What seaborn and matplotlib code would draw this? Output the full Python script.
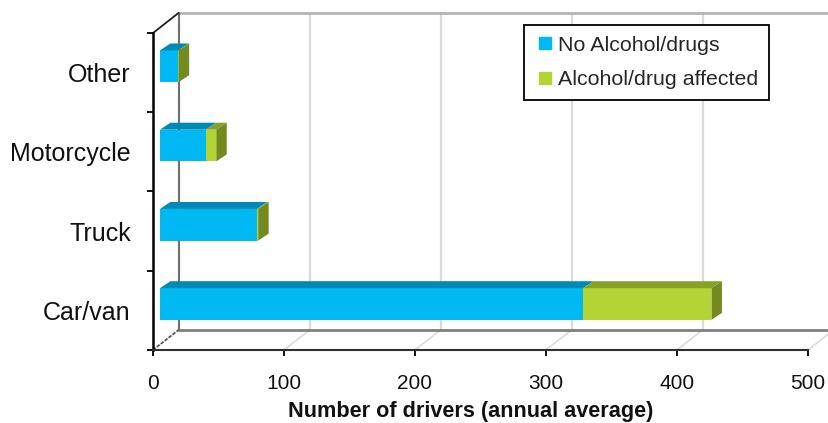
import pandas as pd
import matplotlib
matplotlib.use("Agg")
import matplotlib.pyplot as plt
from matplotlib.lines import Line2D
from matplotlib.patches import Polygon
import seaborn as sns

# data
vehicles = ["Other", "Motorcycle", "Truck", "Car/van"]
no_alcohol = [14, 35, 74, 323]
alcohol = [0.3, 8, 1, 98]
x_ticks = [0, 100, 200, 300, 400, 500]
x_title = "Number of drivers (annual average)"
legend_labels = ["No Alcohol/drugs", "Alcohol/drug affected"]

df = pd.DataFrame({"vehicle": vehicles, "no_alcohol": no_alcohol, "alcohol": alcohol})
df["total"] = df["no_alcohol"] + df["alcohol"]

BLUE, BLUE_TOP = "#00B9F2", "#0089B5"
GREEN, GREEN_TOP, GREEN_SIDE = "#B4D334", "#87A027", "#748A1E"

sns.set_theme(style="white")
plt.rcParams["font.family"] = ["Liberation Sans", "DejaVu Sans"]

W, H = 829, 423
fig = plt.figure(figsize=(W / 100, H / 100), dpi=100)
ax = fig.add_axes([153 / W, 1 - 350 / H, 655 / W, 317 / H])

sns.barplot(data=df, x="total", y="vehicle", color=GREEN, saturation=1, width=0.4, ax=ax, zorder=5)
sns.barplot(data=df, x="no_alcohol", y="vehicle", color=BLUE, saturation=1, width=0.4, ax=ax, zorder=6)

# fake 3d depth, in data units (1 unit = 1.31 px across, 1 band = 79 px down)
wall_dx, wall_dy = 19.5, 0.253
front_dx, front_dy = 5.3, 0.08
top_dx, top_dy = 8.0, 0.088
half = 0.2

for p in ax.patches:
    p.set_x(p.get_x() + front_dx)
    p.set_y(p.get_y() - front_dy)
    p.set_linewidth(0)

# back wall, floor and grid
for v in x_ticks:
    ax.plot([v + wall_dx] * 2, [3.5 - wall_dy, -0.5 - wall_dy], color="#DADADA", lw=1.6, zorder=1, clip_on=False)
    ax.plot([v, v + wall_dx], [3.5, 3.5 - wall_dy], color="#DADADA", lw=1.2, zorder=1, clip_on=False)
ax.plot([wall_dx, 520], [-0.5 - wall_dy] * 2, color="#B4B4B4", lw=2, zorder=2, clip_on=False)
ax.plot([wall_dx, 520], [3.5 - wall_dy] * 2, color="#808080", lw=2, zorder=2, clip_on=False)
ax.plot([wall_dx] * 2, [3.5 - wall_dy, -0.5 - wall_dy], color="#707070", lw=1.5, zorder=2, clip_on=False)
ax.plot([0, wall_dx], [3.5, 3.5 - wall_dy], color="#505050", lw=1.2, ls=(0, (2, 1)), zorder=2, clip_on=False)

# top and side faces of the bars
for i, (blue, total) in enumerate(zip(df["no_alcohol"], df["total"])):
    y0 = i - half - front_dy
    y1 = i + half - front_dy
    spans = [(0, blue, BLUE_TOP), (blue, total, GREEN_TOP)]
    for a, b, c in spans:
        ax.add_patch(Polygon(
            [(a + front_dx, y0), (b + front_dx, y0), (b + front_dx + top_dx, y0 - top_dy), (a + front_dx + top_dx, y0 - top_dy)],
            facecolor=c, edgecolor="none", zorder=7, clip_on=False))
    ax.add_patch(Polygon(
        [(total + front_dx, y0), (total + front_dx + top_dx, y0 - top_dy), (total + front_dx + top_dx, y1 - top_dy), (total + front_dx, y1)],
        facecolor=GREEN_SIDE, edgecolor="none", zorder=7, clip_on=False))

ax.set_xlim(0, 500)
ax.set_ylim(3.5, -0.5)
ax.set_xticks(x_ticks)
ax.set_yticks(range(len(vehicles)))
ax.set_yticklabels(vehicles)
ax.set_yticks([-0.5, 0.5, 1.5, 2.5, 3.5], minor=True)
ax.tick_params(axis="y", which="major", length=0, pad=16, labelsize=18, labelcolor="#111111")
ax.tick_params(axis="y", which="minor", length=4, width=1.3, color="black", left=True)
ax.tick_params(axis="x", length=4, width=1.3, color="black", bottom=True, pad=13.5, labelsize=15, labelcolor="#111111")
ax.set_ylabel("")
ax.set_xlabel(x_title, fontsize=15.6, fontweight="bold", color="#111111")
ax.xaxis.set_label_coords((471 - 153) / 655, -0.162)

sns.despine(ax=ax, top=True, right=True)
ax.spines["left"].set(color="black", linewidth=1.8)
ax.spines["bottom"].set(color="#303030", linewidth=1.5)
for s in ax.spines.values():
    s.set_zorder(3)

# top edge of the left wall
ax.plot([0, wall_dx], [-0.5, -0.5 - wall_dy], color="#202020", lw=1.3, zorder=3, clip_on=False)

handles = [Line2D([], [], ls="none", marker="s", markersize=8, color=c) for c in (BLUE, GREEN)]
leg = ax.legend(
    handles, legend_labels, loc="upper left", bbox_to_anchor=(524 / W, 1 - 25 / H), bbox_transform=fig.transFigure,
    borderaxespad=0, borderpad=0.5, handlelength=1.0, handletextpad=0.1, labelspacing=0.72, fontsize=15.4,
    frameon=True, fancybox=False, framealpha=1, edgecolor="black",
)
leg.get_frame().set_linewidth(1.3)
leg.set_zorder(10)

plt.savefig("out.png", dpi=100)
